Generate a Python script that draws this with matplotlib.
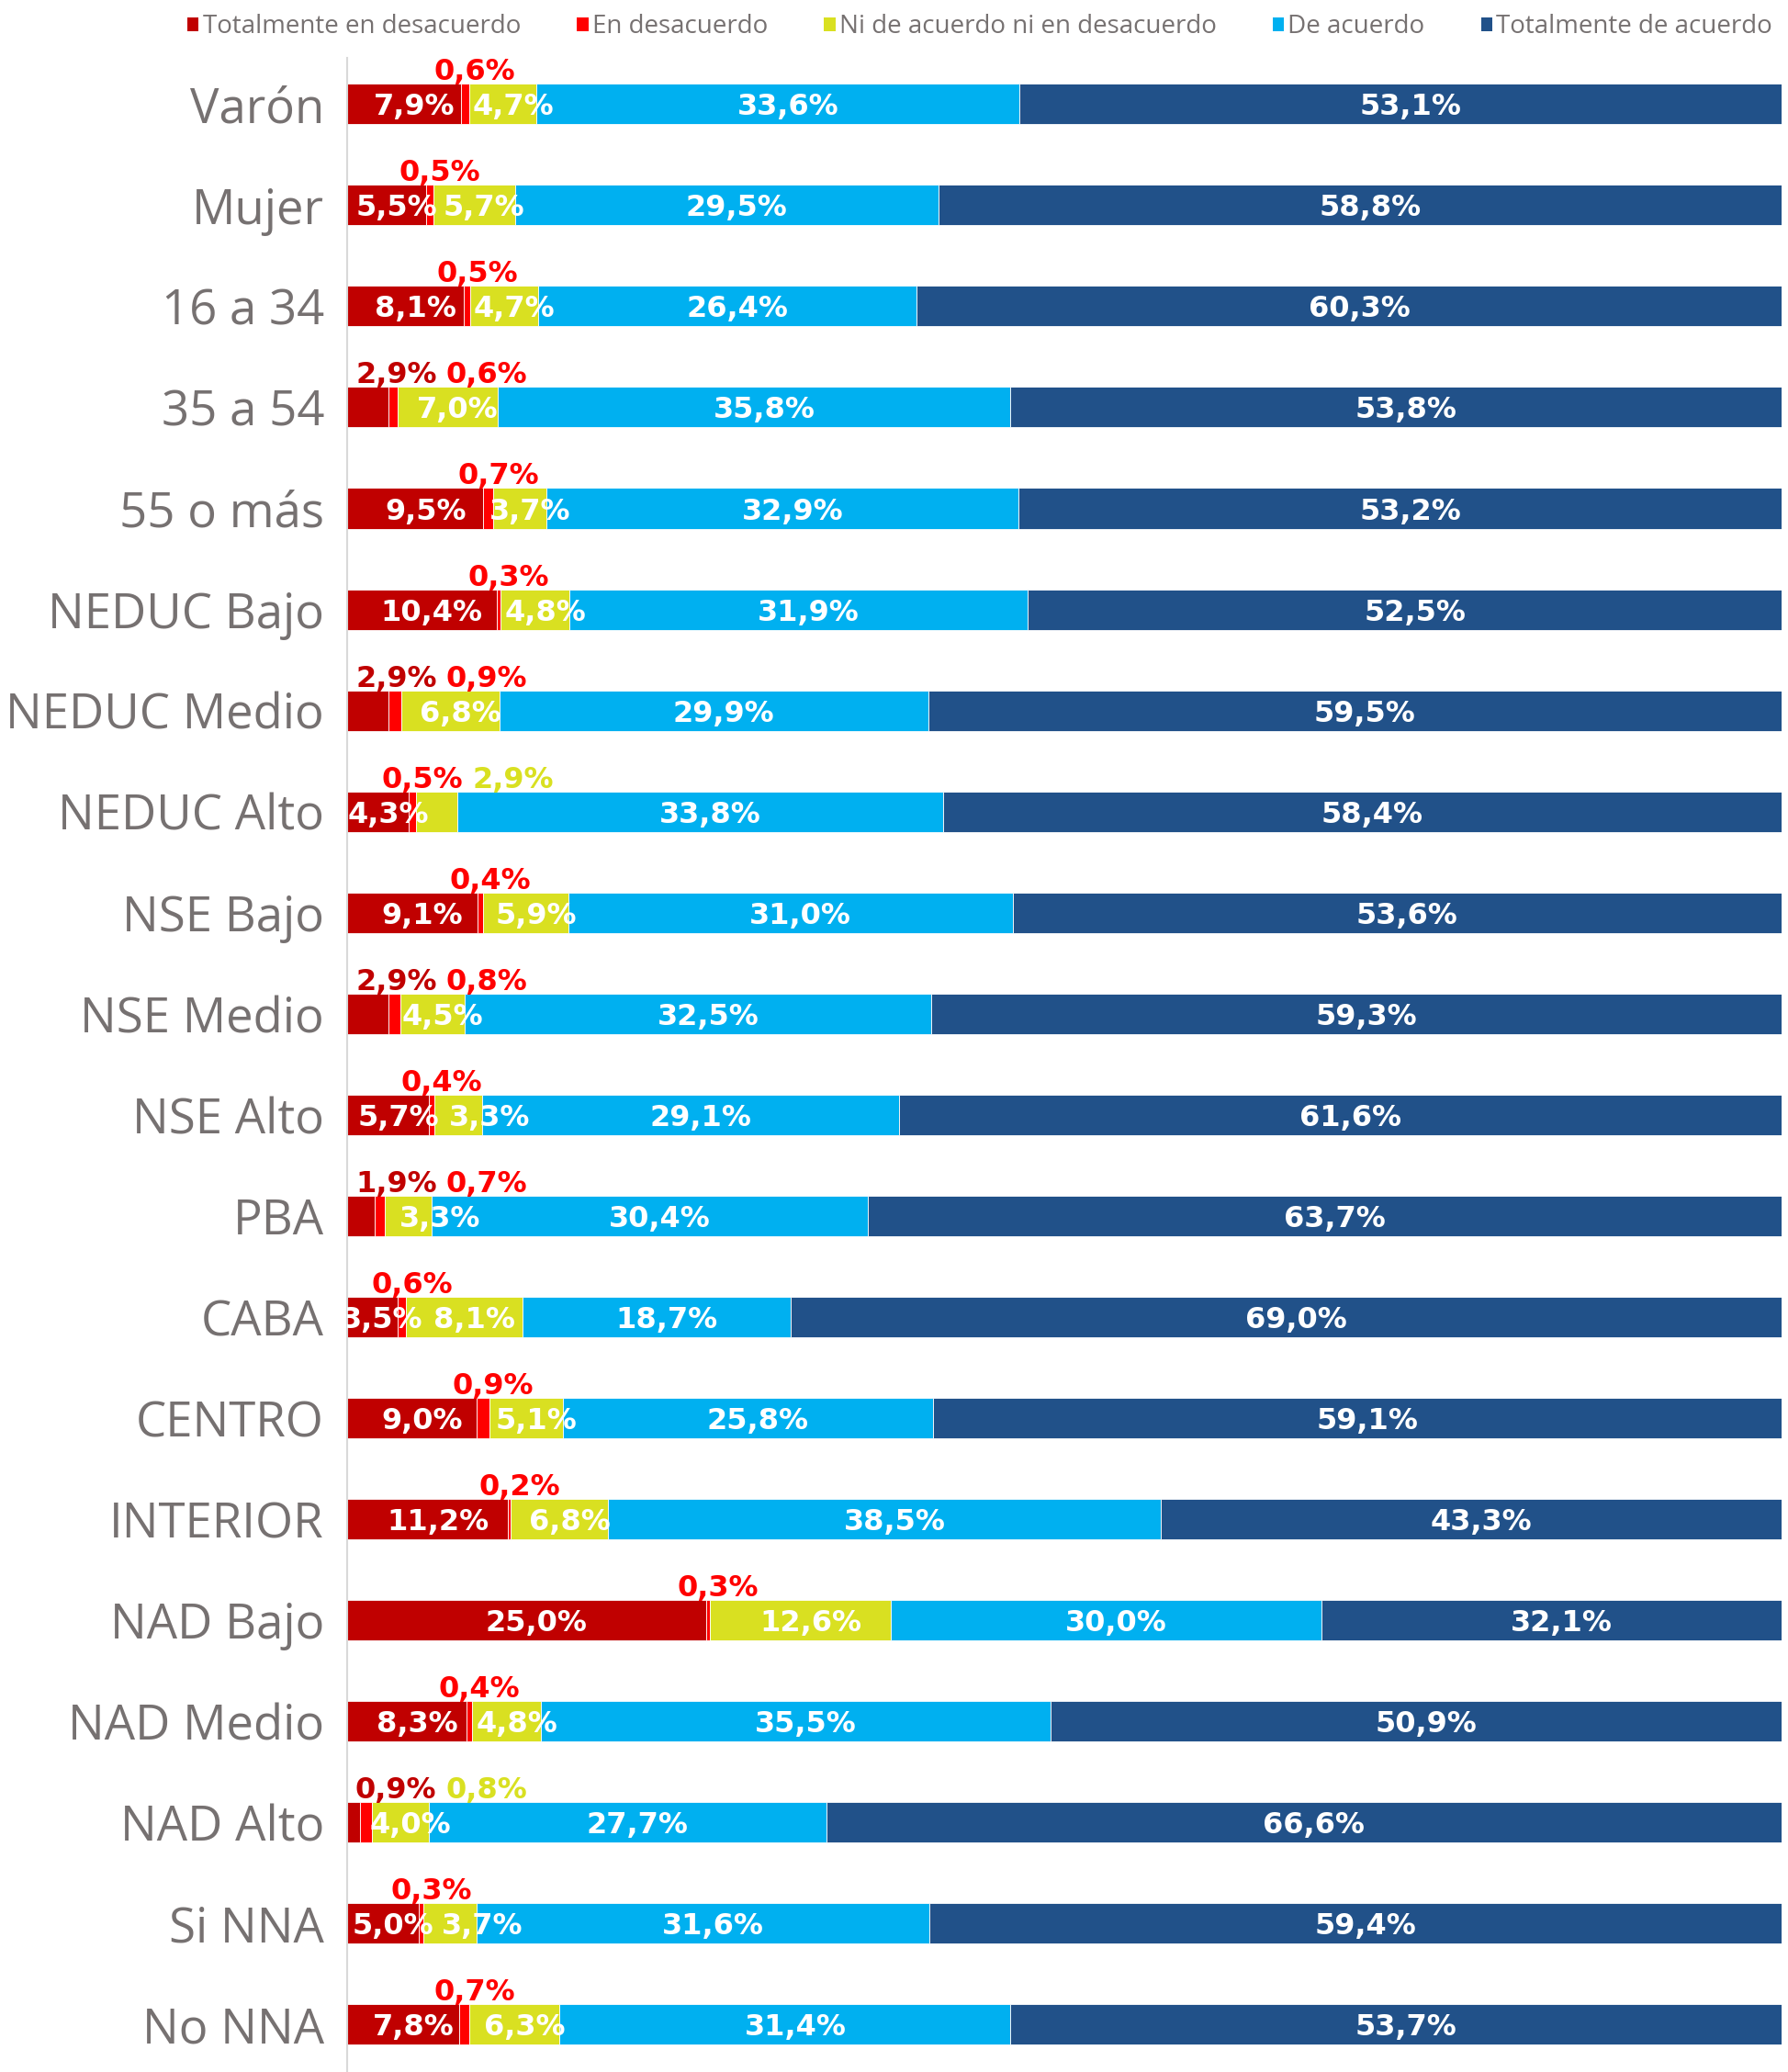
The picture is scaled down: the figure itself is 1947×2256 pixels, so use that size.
import matplotlib
matplotlib.use("Agg")
import matplotlib.pyplot as plt
from matplotlib.patches import Patch
from matplotlib.transforms import offset_copy
import numpy as np

# ---------------- data ----------------
categories = ["Varón", "Mujer", "16 a 34", "35 a 54", "55 o más",
              "NEDUC Bajo", "NEDUC Medio", "NEDUC Alto",
              "NSE Bajo", "NSE Medio", "NSE Alto",
              "PBA", "CABA", "CENTRO", "INTERIOR",
              "NAD Bajo", "NAD Medio", "NAD Alto",
              "Si NNA", "No NNA"]
series_names = ["Totalmente en desacuerdo", "En desacuerdo",
                "Ni de acuerdo ni en desacuerdo", "De acuerdo",
                "Totalmente de acuerdo"]
tot_desacuerdo = [7.9, 5.5, 8.1, 2.9, 9.5, 10.4, 2.9, 4.3, 9.1, 2.9, 5.7, 1.9, 3.5, 9.0, 11.2, 25.0, 8.3, 0.9, 5.0, 7.8]
en_desacuerdo = [0.6, 0.5, 0.5, 0.6, 0.7, 0.3, 0.9, 0.5, 0.4, 0.8, 0.4, 0.7, 0.6, 0.9, 0.2, 0.3, 0.4, 0.8, 0.3, 0.7]
ni_ni = [4.7, 5.7, 4.7, 7.0, 3.7, 4.8, 6.8, 2.9, 5.9, 4.5, 3.3, 3.3, 8.1, 5.1, 6.8, 12.6, 4.8, 4.0, 3.7, 6.3]
de_acuerdo = [33.6, 29.5, 26.4, 35.8, 32.9, 31.9, 29.9, 33.8, 31.0, 32.5, 29.1, 30.4, 18.7, 25.8, 38.5, 30.0, 35.5, 27.7, 31.6, 31.4]
tot_acuerdo = [53.1, 58.8, 60.3, 53.8, 53.2, 52.5, 59.5, 58.4, 53.6, 59.3, 61.6, 63.7, 69.0, 59.1, 43.3, 32.1, 50.9, 66.6, 59.4, 53.7]

# ---------------- style ----------------
colors = ["#C00000", "#FF0000", "#D9E021", "#00B0F0", "#215189"]
gray = "#767171"
label_font = "Open Sans"
value_font = "DejaVu Sans"
# label colour overrides for labels drawn above the bar (row, series) -> colour
above_color_override = {("NAD Alto", 1): "#D9E021"}
# extra horizontal nudges (px) for a few in-bar labels moved in the original
label_nudge = {("Si NNA", 2): 24, ("NSE Alto", 2): 23, ("PBA", 2): 24}

W, H = 1947, 2256
fig = plt.figure(figsize=(W / 100, H / 100), dpi=100)
ax_left, ax_right = 378 / W, 1940 / W
ax_top = 1 - 63 / H
ax = fig.add_axes([ax_left, 0.0, ax_right - ax_left, ax_top])

vals = np.array([tot_desacuerdo, en_desacuerdo, ni_ni, de_acuerdo, tot_acuerdo])
totals = vals.sum(axis=0)
norm = vals / totals * 100.0
y = np.arange(len(categories))
bar_h = 0.40

lefts = np.zeros(len(categories))
for k in range(5):
    ax.barh(y, norm[k], left=lefts, height=bar_h, color=colors[k],
            edgecolor="white", linewidth=0.6, zorder=2)
    lefts = lefts + norm[k]

ax.set_xlim(0, 100)
ax.set_ylim(19.47, -0.457)
ax.set_yticks(y)
ax.set_yticklabels(categories, fontsize=38, color=gray, family=label_font)
ax.tick_params(axis="y", length=0, pad=18)
ax.set_xticks([])
for s in ["top", "right", "bottom"]:
    ax.spines[s].set_visible(False)
ax.spines["left"].set_color("#D9D9D9")
ax.spines["left"].set_linewidth(1.5)
for lbl in ax.get_yticklabels():
    lbl.set_verticalalignment("center_baseline")


def fmt(v):
    return f"{v:.1f}".replace(".", ",") + "%"


fig.canvas.draw()
renderer = fig.canvas.get_renderer()
inv = ax.transData.inverted()
shift = 11  # px, labels sit slightly right of the segment centre

for i, cat in enumerate(categories):
    left = 0.0
    prev_right_px = None
    for k in range(5):
        v = vals[k, i]
        w = norm[k, i]
        cx = left + w / 2
        if v >= 3.0:
            dx = shift + label_nudge.get((cat, k), 0)
            tr = offset_copy(ax.transData, fig=fig, x=dx, y=0, units="dots")
            ax.text(cx, i, fmt(v), ha="center", va="center_baseline",
                    color="white", fontsize=23, fontweight="bold",
                    family=value_font, transform=tr, clip_on=True, zorder=3)
        else:
            col = above_color_override.get((cat, k), colors[k])
            ytop = i - bar_h / 2
            if prev_right_px is None:
                if k == 0:
                    x_px = ax.transData.transform((0, ytop))[0] + 9
                    ha = "left"
                else:
                    x_px = ax.transData.transform((cx, ytop))[0] + shift
                    ha = "center"
            else:
                x_px = prev_right_px + 10
                ha = "left"
            xd = inv.transform((x_px, 0))[0]
            tr = offset_copy(ax.transData, fig=fig, x=0, y=4, units="dots")
            t = ax.text(xd, ytop, fmt(v), ha=ha, va="baseline", color=col,
                        fontsize=23, fontweight="bold", family=value_font,
                        transform=tr, zorder=3)
            prev_right_px = t.get_window_extent(renderer).x1
        left += w

handles = [Patch(facecolor=c, edgecolor="none") for c in colors]
fig.legend(handles, series_names, loc="center", bbox_to_anchor=(0.548, 1 - 29 / H),
           ncol=5, frameon=False, handlelength=0.45, handleheight=0.45,
           handletextpad=0.15, columnspacing=2.2,
           prop={"family": label_font, "size": 20}, labelcolor=gray)

fig.savefig("out.png", dpi=100, facecolor="white")
